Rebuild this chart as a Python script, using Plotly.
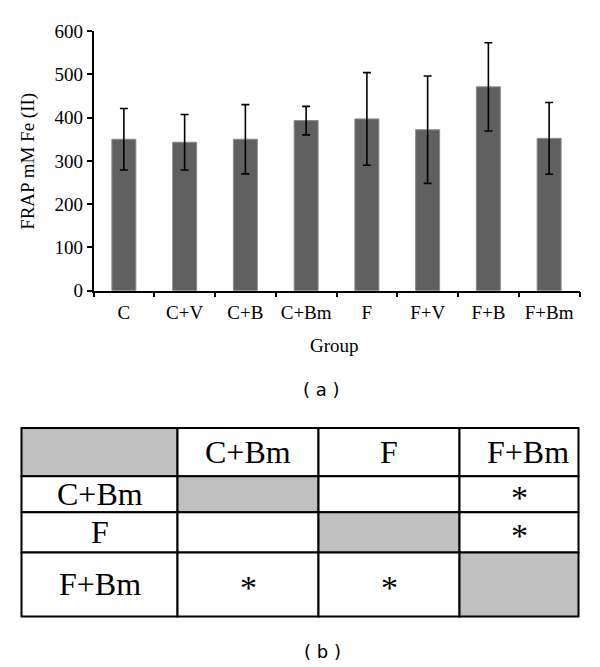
import plotly.graph_objects as go

# ---------------- data ----------------
groups = ["C", "C+V", "C+B", "C+Bm", "F", "F+V", "F+B", "F+Bm"]
frap_mean = [350, 343, 350, 393, 397, 372, 471, 352]
frap_err = [71, 64, 80, 33, 107, 124, 102, 83]
y_ticks = [0, 100, 200, 300, 400, 500, 600]

table_cols = ["C+Bm", "F", "F+Bm"]
table_rows = ["C+Bm", "F", "F+Bm"]
significance = [
    ["", "", "*"],
    ["", "", "*"],
    ["*", "*", ""],
]

# ---------------- layout helpers ----------------
W, H = 600, 667
OX, OY, SY = 7.5, 18.0, 0.966   # observed page offset / vertical scale

def px(x):
    return (x - OX) / W

def py(y):
    return 1 - ((y - OY) / SY) / H

SERIF = "Liberation Serif"
SANS = "DejaVu Sans"

fig = go.Figure()
fig.add_trace(go.Bar(
    x=groups, y=frap_mean,
    marker=dict(color="#606060", line=dict(color="#8c8c8c", width=1)),
    error_y=dict(type="data", array=frap_err, visible=True,
                 color="black", thickness=1.6, width=4),
    showlegend=False,
))

fig.update_layout(
    width=W, height=H,
    margin=dict(l=0, r=0, t=0, b=0),
    paper_bgcolor="white", plot_bgcolor="white",
    bargap=0.605,
    font=dict(family=SERIF, size=18, color="black"),
    xaxis=dict(
        domain=[px(93), px(579)],
        type="category",
        showline=True, linecolor="black", linewidth=1.5,
        ticks="outside", ticklen=5, tickcolor="black", tickwidth=1.5,
        tickson="boundaries",
        ticklabelstandoff=4,
        showgrid=False, zeroline=False,
        tickfont=dict(family=SERIF, size=19),
        anchor="y",
    ),
    yaxis=dict(
        domain=[py(290), py(31)],
        range=[0, 600],
        tickvals=y_ticks,
        showline=True, linecolor="black", linewidth=1.5,
        ticks="outside", ticklen=5, tickcolor="black", tickwidth=1.5,
        showgrid=False, zeroline=False,
        tickfont=dict(family=SERIF, size=19),
        anchor="x",
    ),
)

annotations = [
    dict(text="FRAP mM Fe (II)", x=px(28), y=py(161), xref="paper", yref="paper",
         textangle=-90, showarrow=False, xanchor="center", yanchor="middle",
         font=dict(family=SERIF, size=19)),
    dict(text="Group", x=px(334), y=py(345), xref="paper", yref="paper",
         showarrow=False, xanchor="center", yanchor="middle",
         font=dict(family=SERIF, size=19)),
    dict(text="( a )", x=px(321), y=py(389), xref="paper", yref="paper",
         showarrow=False, xanchor="center", yanchor="middle",
         font=dict(family=SANS, size=18)),
    dict(text="( b )", x=px(322), y=py(650), xref="paper", yref="paper",
         showarrow=False, xanchor="center", yanchor="middle",
         font=dict(family=SANS, size=18)),
]

# ---------------- table (b) ----------------
col_edges = [21, 177, 318, 459, 578]
row_edges = [427, 475, 511, 551, 615]
shapes = []
n = len(table_cols) + 1
for i in range(n):
    for j in range(n):
        gray = (i == j)
        shapes.append(dict(
            type="rect", xref="paper", yref="paper",
            x0=px(col_edges[j]), x1=px(col_edges[j + 1]),
            y0=py(row_edges[i + 1]), y1=py(row_edges[i]),
            fillcolor="#c0c0c0" if gray else "white",
            line=dict(color="black", width=2),
            layer="above",
        ))

def cx(j):
    return (col_edges[j] + col_edges[j + 1]) / 2

def cy(i):
    return (row_edges[i] + row_edges[i + 1]) / 2

tfont = dict(family=SERIF, size=32, color="black")
sfont = dict(family=SERIF, size=34, color="black")
for j, lab in enumerate(table_cols):
    xoff = 9 if j == len(table_cols) - 1 else 0
    annotations.append(dict(text=lab, x=px(cx(j + 1) + xoff), y=py(cy(0)),
                            xref="paper", yref="paper", showarrow=False,
                            xanchor="center", yanchor="middle", font=tfont))
for i, lab in enumerate(table_rows):
    annotations.append(dict(text=lab, x=px(cx(0)), y=py(cy(i + 1)),
                            xref="paper", yref="paper", showarrow=False,
                            xanchor="center", yanchor="middle", font=tfont))
    for j, s in enumerate(significance[i]):
        if s:
            annotations.append(dict(text=s, x=px(cx(j + 1)), y=py(cy(i + 1)),
                                    xref="paper", yref="paper", showarrow=False,
                                    xanchor="center", yanchor="middle",
                                    yshift=-3, font=sfont))

fig.update_layout(annotations=annotations, shapes=shapes)
fig.write_html("out.html")
